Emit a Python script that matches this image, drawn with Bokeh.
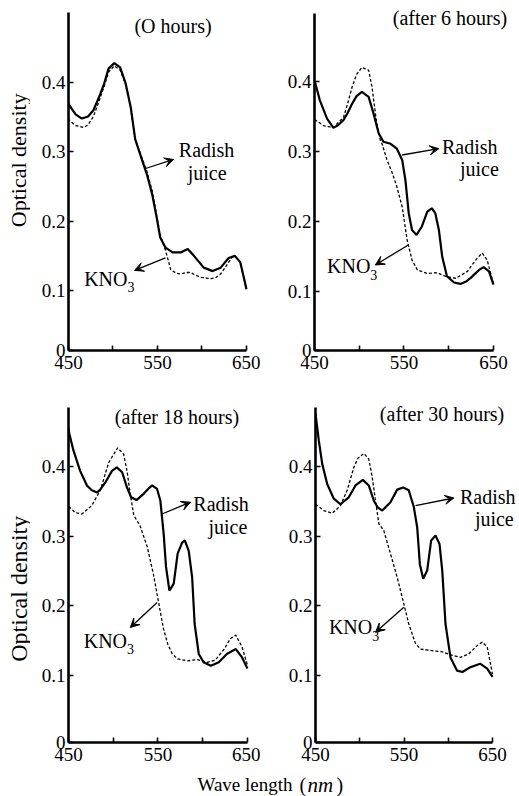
import math
from bokeh.plotting import figure
from bokeh.models import Range1d, FixedTicker, PrintfTickFormatter, Label, Arrow, VeeHead
from bokeh.layouts import column, row
from bokeh.embed import file_html
from bokeh.resources import INLINE

FONT = "Liberation Serif"

# ---------------- data (wave length nm, optical density) ----------------
# Panel 1: 0 hours
x1_radish = [450, 451, 458, 465, 472, 478, 484, 490, 495, 501.5, 508, 514, 520, 525, 533, 538, 544, 549,
             553, 559, 567, 576, 584, 591, 602, 612, 621, 630, 637, 643, 647, 650]
y1_radish = [0.370, 0.367, 0.354, 0.348, 0.351, 0.360, 0.378, 0.398, 0.420, 0.428, 0.422, 0.400, 0.364,
             0.318, 0.287, 0.268, 0.239, 0.206, 0.177, 0.162, 0.155, 0.155, 0.160, 0.150, 0.133, 0.128,
             0.133, 0.147, 0.150, 0.141, 0.119, 0.102]
x1_kno3 = [450, 451, 458, 467, 472, 478, 484, 490, 495, 501.5, 508, 514, 520, 525, 533, 538, 544, 549, 553,
           559, 565, 571, 576, 582, 587, 593, 599, 605, 610, 616, 621, 626, 630, 634, 637, 643, 647, 650]
y1_kno3 = [0.348, 0.345, 0.338, 0.335, 0.339, 0.351, 0.372, 0.394, 0.415, 0.424, 0.418, 0.398, 0.362,
           0.318, 0.290, 0.272, 0.244, 0.209, 0.180, 0.158, 0.130, 0.125, 0.124, 0.126, 0.126, 0.122,
           0.119, 0.118, 0.117, 0.119, 0.124, 0.133, 0.141, 0.148, 0.150, 0.141, 0.119, 0.102]

# Panel 2: after 6 hours
x2_radish = [450, 451, 456, 464, 471, 476, 482.5, 487, 492, 497, 503, 510.5, 516, 521.7, 527, 535, 542, 548,
             551.6, 555.3, 559, 564, 570, 576, 581, 585, 589, 592.7, 598, 606, 613, 620, 624, 634, 639,
             645, 650]
y2_radish = [0.400, 0.397, 0.373, 0.347, 0.334, 0.337, 0.345, 0.355, 0.368, 0.379, 0.385, 0.378, 0.354,
             0.326, 0.314, 0.311, 0.304, 0.288, 0.259, 0.212, 0.188, 0.181, 0.193, 0.214, 0.219, 0.212,
             0.188, 0.150, 0.122, 0.113, 0.111, 0.115, 0.119, 0.131, 0.135, 0.129, 0.110]
x2_kno3 = [450, 451, 460, 471, 482.5, 487, 492, 497, 503, 510.5, 514.3, 519, 523.6, 525.5, 531, 537, 542,
           548, 553.5, 559, 565, 576, 587, 596, 608, 621, 626, 632, 637.5, 643, 650]
y2_kno3 = [0.345, 0.345, 0.337, 0.334, 0.349, 0.368, 0.392, 0.410, 0.420, 0.416, 0.392, 0.345, 0.316,
           0.311, 0.288, 0.269, 0.250, 0.221, 0.174, 0.145, 0.131, 0.126, 0.127, 0.122, 0.119, 0.129,
           0.138, 0.148, 0.155, 0.145, 0.111]

# Panel 3: after 18 hours
x3_radish = [450, 451, 455.6, 463, 470.6, 476, 482, 486, 491, 498.6, 504, 510, 515.4, 520, 526, 534, 539,
             543.4, 549, 552.7, 556.4, 559, 562.8, 567.6, 572, 577, 580, 584.4, 588.2, 591, 595.6, 601,
             609, 618, 627, 637, 644, 650]
y3_radish = [0.455, 0.447, 0.423, 0.394, 0.373, 0.366, 0.363, 0.368, 0.377, 0.394, 0.399, 0.392, 0.370,
             0.356, 0.352, 0.361, 0.368, 0.373, 0.368, 0.351, 0.303, 0.256, 0.222, 0.232, 0.275, 0.291,
             0.294, 0.279, 0.241, 0.174, 0.131, 0.119, 0.114, 0.119, 0.131, 0.138, 0.126, 0.110]
x3_kno3 = [450, 451, 457.5, 465, 476, 485.5, 495, 505, 511.6, 515.4, 519, 523, 530, 538, 545, 551, 556,
           561, 566, 572, 583, 594, 605, 614, 624, 631, 637, 644, 650]
y3_kno3 = [0.342, 0.342, 0.334, 0.332, 0.344, 0.366, 0.406, 0.427, 0.418, 0.394, 0.361, 0.330, 0.315,
           0.285, 0.245, 0.203, 0.168, 0.145, 0.131, 0.124, 0.121, 0.123, 0.119, 0.122, 0.138, 0.153,
           0.158, 0.141, 0.115]

# Panel 4: after 30 hours
x4_radish = [450, 453.8, 457.6, 463.2, 470.7, 478.2, 487.6, 495.2, 503.5, 510.2, 515.9, 520, 525.4, 534.7,
             542.3, 549.1, 555.4, 561.1, 564.9, 567.9, 571.7, 576.2, 580.7, 585.6, 590.1, 593.2, 596.9,
             602.5, 610, 616, 625, 636, 644, 650]
y4_radish = [0.476, 0.437, 0.404, 0.375, 0.354, 0.346, 0.356, 0.373, 0.381, 0.373, 0.351, 0.342, 0.337,
             0.349, 0.367, 0.370, 0.366, 0.342, 0.313, 0.260, 0.239, 0.251, 0.294, 0.301, 0.289, 0.251,
             0.174, 0.126, 0.107, 0.105, 0.112, 0.117, 0.110, 0.098]
x4_kno3 = [450, 459.4, 468.9, 478.2, 485.8, 493.3, 498, 504.6, 510.2, 514.1, 517.8, 521.6, 527.2, 534.7,
           542.3, 549.8, 555.4, 563, 568.6, 580, 593.2, 604.5, 613.8, 623.2, 632.7, 638.4, 644, 650]
y4_kno3 = [0.346, 0.337, 0.333, 0.344, 0.366, 0.399, 0.412, 0.419, 0.411, 0.385, 0.351, 0.318, 0.308,
           0.275, 0.241, 0.203, 0.174, 0.146, 0.138, 0.136, 0.134, 0.129, 0.126, 0.131, 0.143, 0.148,
           0.141, 0.102]

titles = ["(O hours)", "(after  6 hours)", "(after  18 hours)", "(after  30 hours)"]
x_ticks = [450, 500, 550, 600, 650]
x_tick_labels = {500: "", 600: ""}
y_ticks = [0.1, 0.2, 0.3, 0.4]
y_label = "Optical density"
x_label_main = "Wave length"
x_label_unit = "nm"
radish_text = ["Radish", "juice"]
kno3_text = ["KNO", "3"]


def strip(w, h):
    s = figure(width=w, height=h, x_range=Range1d(0, w), y_range=Range1d(0, h),
               x_axis_type=None, y_axis_type=None, output_backend="svg",
               toolbar_location=None, min_border=0)
    s.grid.visible = False
    s.outline_line_color = None
    return s


def ylabel_strip(h, y_center, size):
    s = strip(30, h)
    s.add_layout(Label(x=18, y=y_center, text=y_label, angle=math.pi / 2, text_align="center",
                       text_baseline="middle", text_font=FONT, text_font_size=size, text_color="black"))
    return s


def panel(xs, ys, xd, yd, y_lo, y_hi, x_hi_ext, y_hi_ext, w, h, bl, bb, title, title_xy,
          radish_xy, radish_align, juice_xy, arrow_r, kno_xy, arrow_k):
    # the frame runs to the canvas' right and top edges so that texts are not clipped;
    # the axis lines are bounded to the data extent (450-650 nm, 0 - y_hi)
    p = figure(width=w, height=h, x_range=Range1d(450, x_hi_ext), y_range=Range1d(y_lo, y_hi_ext),
               output_backend="svg", toolbar_location=None,
               min_border_left=bl, min_border_right=0, min_border_top=0, min_border_bottom=bb)
    p.outline_line_color = None
    p.grid.visible = False
    p.background_fill_color = "white"
    p.border_fill_color = "white"

    p.line(xs, ys, line_color="black", line_width=2.2)
    p.line(xd, yd, line_color="black", line_width=1.3, line_dash="3 2")

    for ax in (p.xaxis[0], p.yaxis[0]):
        ax.axis_line_width = 2.6
        ax.axis_line_color = "black"
        ax.major_tick_in = 5
        ax.major_tick_out = 0
        ax.major_tick_line_width = 1.6
        ax.minor_tick_line_color = None
        ax.major_label_text_font = FONT
        ax.major_label_text_font_size = "19px"
        ax.major_label_text_color = "black"

    p.xaxis.bounds = (450, 650)
    p.xaxis.ticker = FixedTicker(ticks=x_ticks)
    p.xaxis.major_label_overrides = x_tick_labels
    p.xaxis.major_label_standoff = 5

    p.yaxis.bounds = (y_lo, y_hi)
    p.yaxis.ticker = FixedTicker(ticks=[y_lo] + y_ticks)
    p.yaxis.formatter = PrintfTickFormatter(format="%.1f")
    p.yaxis.major_label_overrides = {y_lo: "0"}
    p.yaxis.major_label_standoff = 3

    def lab(x, y, text, align="center", size="20px", baseline="middle"):
        p.add_layout(Label(x=x, y=y, text=text, text_align=align, text_baseline=baseline,
                           text_font=FONT, text_font_size=size, text_color="black"))

    lab(title_xy[0], title_xy[1], title)
    lab(radish_xy[0], radish_xy[1], radish_text[0], align=radish_align)
    lab(juice_xy[0], juice_xy[1], radish_text[1], align=radish_align)
    lab(kno_xy[0], kno_xy[1], kno3_text[0], align="right")
    lab(kno_xy[0], kno_xy[1] - 0.012, kno3_text[1], align="left", size="14px")

    for (xa, ya, xb, yb) in (arrow_r, arrow_k):
        p.add_layout(Arrow(end=VeeHead(size=9, fill_color="black", line_color="black", line_width=1),
                           x_start=xa, y_start=ya, x_end=xb, y_end=yb,
                           line_color="black", line_width=1.3))
    return p


s1 = ylabel_strip(390, 212, "22px")
p1 = panel(x1_radish, y1_radish, x1_kno3, y1_kno3, 0.0135, 0.501, 665.8, 0.5183, 230, 390, 38, 40,
           titles[0], (567.5, 0.482),
           (605.2, 0.302), "center", (605.8, 0.270), (536.6, 0.276, 568.1, 0.289),
           (516.3, 0.117), (559.0, 0.147, 524.2, 0.129))
p2 = panel(x2_radish, y2_radish, x2_kno3, y2_kno3, 0.016, 0.497, 679.1, 0.5155, 259, 390, 54, 39,
           titles[1], (604.2, 0.491),
           (654.6, 0.3065), "right", (656.0, 0.2744), (547.9, 0.295, 588.9, 0.304),
           (512.4, 0.136), (555.3, 0.167, 518.0, 0.138))
s3 = ylabel_strip(380, 166, "24px")
p3 = panel(x3_radish, y3_radish, x3_kno3, y3_kno3, 0.0038, 0.485, 664.6, 0.5094, 230, 380, 38, 28,
           titles[2], (574.0, 0.471),
           (651.6, 0.3465), "right", (649.8, 0.313), (554.6, 0.332, 586.3, 0.349),
           (515.4, 0.150), (549.0, 0.205, 519.1, 0.169))
p4 = panel(x4_radish, y4_radish, x4_kno3, y4_kno3, 0.0038, 0.485, 680.5, 0.5094, 259, 380, 55, 28,
           titles[3], (595.8, 0.476),
           (676.0, 0.356), "right", (674.0, 0.325), (563.0, 0.344, 606.3, 0.355),
           (514.1, 0.169), (549.8, 0.198, 517.8, 0.162))

# x-axis label strip
p5 = strip(519, 26)
for x, t, size, style in ((197, x_label_main, "19px", "normal"), (299, "(", "20px", "normal"),
                          (307, x_label_unit, "21px", "italic"), (336, ")", "20px", "normal")):
    p5.add_layout(Label(x=x, y=12, text=t, text_align="left", text_baseline="middle",
                        text_font=FONT, text_font_size=size, text_font_style=style, text_color="black"))

layout = column(row(s1, p1, p2), row(s3, p3, p4), p5)
open("out.html", "w").write(file_html(layout, INLINE))
